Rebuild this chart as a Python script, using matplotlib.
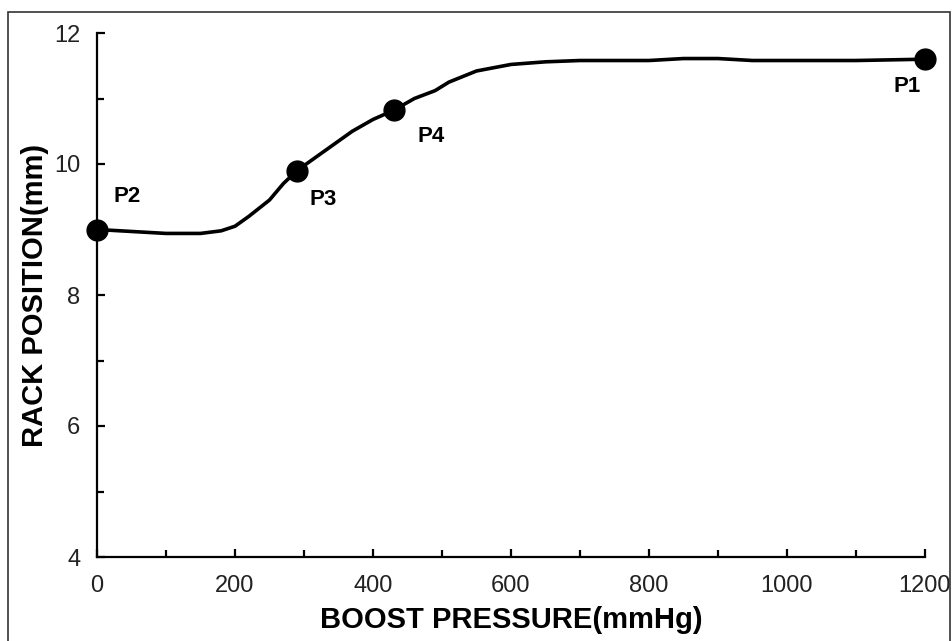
import matplotlib
matplotlib.use("Agg")
import matplotlib.pyplot as plt
from matplotlib.patches import Rectangle
from matplotlib.ticker import MultipleLocator

######################################################################
# DATA
boost = [0, 50, 100, 150, 180, 200, 220, 250, 270, 290, 330, 370, 400,
         430, 460, 490, 510, 550, 600, 650, 700, 800, 850, 900, 950,
         1000, 1100, 1200]
rack = [9.0, 8.97, 8.94, 8.94, 8.98, 9.05, 9.2, 9.45, 9.7, 9.9, 10.2,
        10.5, 10.68, 10.82, 11.0, 11.12, 11.25, 11.42, 11.52, 11.56,
        11.58, 11.58, 11.61, 11.61, 11.58, 11.58, 11.58, 11.6]

pt_names = ["P1", "P2", "P3", "P4"]
pt_x = [1200, 0, 290, 430]
pt_y = [11.6, 9.0, 9.9, 10.82]
# label offsets in points (dx, dy)
pt_off = [(-13, -20), (22, 24), (19, -21), (27, -19)]

######################################################################
# PLOT
plt.rcParams['font.family'] = ["Liberation Sans", "DejaVu Sans"]

fig = plt.figure(figsize=(9.53, 6.41), dpi=100)
ax = fig.add_axes([97 / 953, 84 / 641, 828 / 953, 524 / 641])

ax.plot(boost, rack, color="black", lw=2.6, solid_capstyle="round",
        solid_joinstyle="round", zorder=2)
ax.plot(pt_x, pt_y, "o", color="black", ms=15, zorder=3, clip_on=False)
for n, x, y, (dx, dy) in zip(pt_names, pt_x, pt_y, pt_off):
    ax.annotate(n, (x, y), xytext=(dx, dy), textcoords="offset points",
                ha="center", va="center", fontsize=16, fontweight="bold")

ax.set_xlim(0, 1200)
ax.set_ylim(4, 12)
ax.xaxis.set_major_locator(MultipleLocator(200))
ax.xaxis.set_minor_locator(MultipleLocator(100))
ax.yaxis.set_major_locator(MultipleLocator(2))
ax.yaxis.set_minor_locator(MultipleLocator(1))

for s in ["top", "right"]:
    ax.spines[s].set_visible(False)
for s in ["left", "bottom"]:
    ax.spines[s].set_linewidth(1.6)

ax.tick_params(which="both", direction="in", width=1.6)
ax.tick_params(which="major", length=6, labelsize=17, labelcolor="#222222")
ax.tick_params(which="minor", length=5)
ax.tick_params(axis="x", which="major", pad=13)
ax.tick_params(axis="y", which="major", pad=12)

ax.set_xlabel("BOOST PRESSURE(mmHg)", fontsize=21, fontweight="bold",
              va="center")
ax.set_ylabel("RACK POSITION(mm)", fontsize=21, fontweight="bold",
              va="center")
ax.xaxis.set_label_coords(0.5, -0.12)
ax.yaxis.set_label_coords(-0.075, 0.5)

# frame round the whole figure
fig.patches.append(Rectangle((8 / 953, -0.01), 942 / 953, 629 / 641 + 0.01,
                             transform=fig.transFigure, fill=False,
                             edgecolor="#333333", lw=1.2))

fig.savefig("out.png", dpi=100)
